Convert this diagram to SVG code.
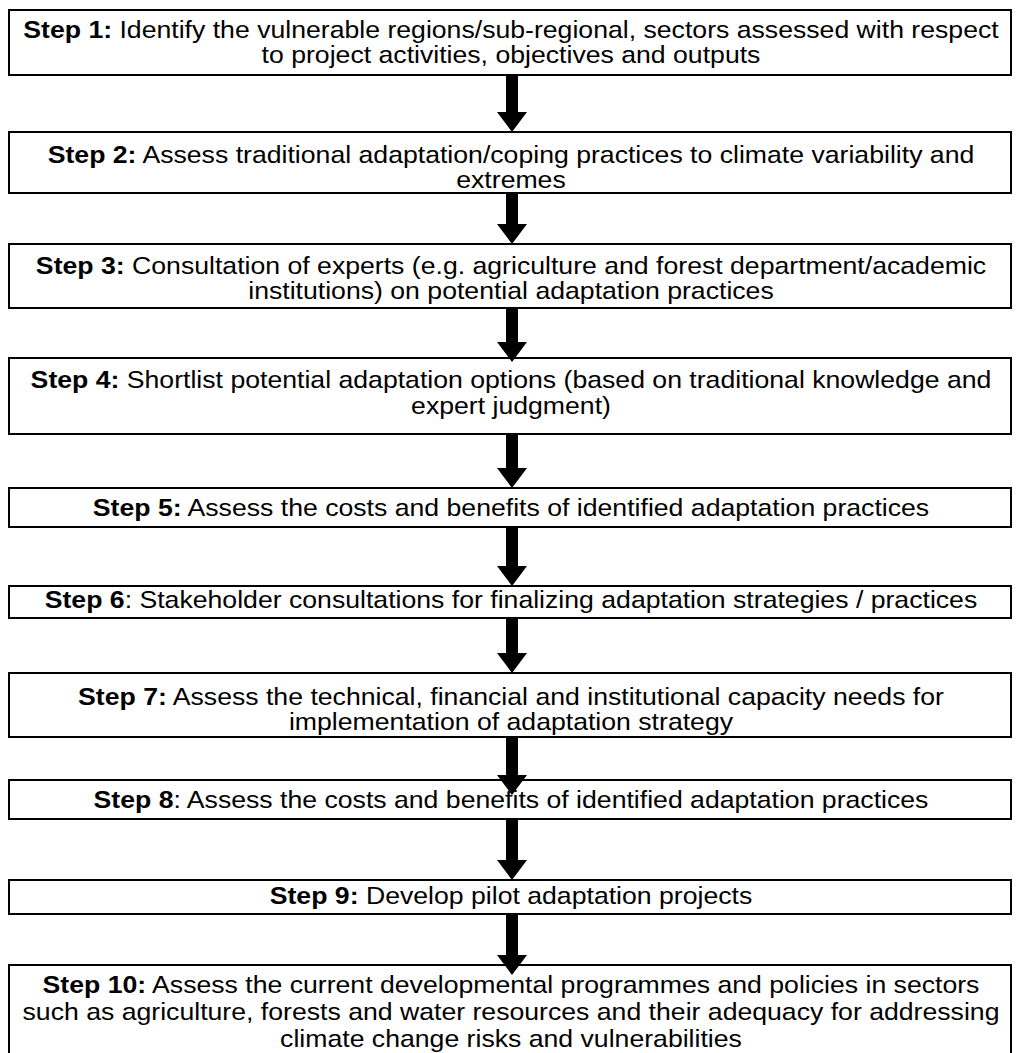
<svg xmlns="http://www.w3.org/2000/svg" width="1018" height="1053" viewBox="0 0 1018 1053">
<style>
.box{fill:#fff;stroke:#000;stroke-width:2}
text{font-family:"Liberation Sans",Arial,sans-serif;font-size:24px;fill:#000;text-anchor:middle}
.b{font-weight:bold}
.arr{fill:#000}
.t{transform:matrix(1.11,0,0,1,-56.21,0)}
</style>
<rect width="1018" height="1053" fill="#fff"/>
<g id="step1"><rect class="box" x="9" y="10" width="1002" height="65"/><g class="t"><text x="511" y="38"><tspan class="b">Step 1:</tspan> Identify the vulnerable regions/sub-regional, sectors assessed with respect</text><text x="511" y="63">to project activities, objectives and outputs</text></g></g>
<g id="step2"><rect class="box" x="9" y="132" width="1002" height="61"/><g class="t"><text x="511" y="163"><tspan class="b">Step 2:</tspan> Assess traditional adaptation/coping practices to climate variability and</text><text x="511" y="188">extremes</text></g></g>
<g id="step3"><rect class="box" x="9" y="244" width="1002" height="64"/><g class="t"><text x="511" y="274"><tspan class="b">Step 3:</tspan> Consultation of experts (e.g. agriculture and forest department/academic</text><text x="511" y="299">institutions) on potential adaptation practices</text></g></g>
<g id="step4"><rect class="box" x="9" y="358" width="1002" height="76"/><g class="t"><text x="511" y="388"><tspan class="b">Step 4:</tspan> Shortlist potential adaptation options (based on traditional knowledge and</text><text x="511" y="414">expert judgment)</text></g></g>
<g id="step5"><rect class="box" x="9" y="488" width="1002" height="39"/><g class="t"><text x="511" y="516"><tspan class="b">Step 5:</tspan> Assess the costs and benefits of identified adaptation practices</text></g></g>
<g id="step6"><rect class="box" x="9" y="586" width="1002" height="32"/><g class="t"><text x="511" y="608"><tspan class="b">Step 6</tspan>: Stakeholder consultations for finalizing adaptation strategies / practices</text></g></g>
<g id="step7"><rect class="box" x="9" y="673" width="1002" height="64"/><g class="t"><text x="511" y="705"><tspan class="b">Step 7:</tspan> Assess the technical, financial and institutional capacity needs for</text><text x="511" y="730">implementation of adaptation strategy</text></g></g>
<g id="step8"><rect class="box" x="9" y="780" width="1002" height="39"/><g class="t"><text x="511" y="808"><tspan class="b">Step 8</tspan>: Assess the costs and benefits of identified adaptation practices</text></g></g>
<g id="step9"><rect class="box" x="9" y="880" width="1002" height="34"/><g class="t"><text x="511" y="904"><tspan class="b">Step 9:</tspan> Develop pilot adaptation projects</text></g></g>
<g id="step10"><rect class="box" x="9" y="965" width="1002" height="100"/><g class="t"><text x="511" y="993"><tspan class="b">Step 10:</tspan> Assess the current developmental programmes and policies in sectors</text><text x="511" y="1020">such as agriculture, forests and water resources and their adequacy for addressing</text><text x="511" y="1047">climate change risks and vulnerabilities</text></g></g>
<g id="connectors">
<polygon class="arr" points="506,75 518,75 518,112 527,112 512,132 497,112 506,112"/>
<polygon class="arr" points="506,193 518,193 518,224 527,224 512,244 497,224 506,224"/>
<polygon class="arr" points="506,308 518,308 518,342 527,342 512,362 497,342 506,342"/>
<polygon class="arr" points="506,434 518,434 518,468 527,468 512,488 497,468 506,468"/>
<polygon class="arr" points="506,527 518,527 518,566 527,566 512,586 497,566 506,566"/>
<polygon class="arr" points="506,618 518,618 518,653 527,653 512,673 497,653 506,653"/>
<polygon class="arr" points="506,737 518,737 518,775 527,775 512,795 497,775 506,775"/>
<polygon class="arr" points="506,819 518,819 518,860 527,860 512,880 497,860 506,860"/>
<polygon class="arr" points="506,914 518,914 518,955 527,955 512,975 497,955 506,955"/>
</g>
</svg>
